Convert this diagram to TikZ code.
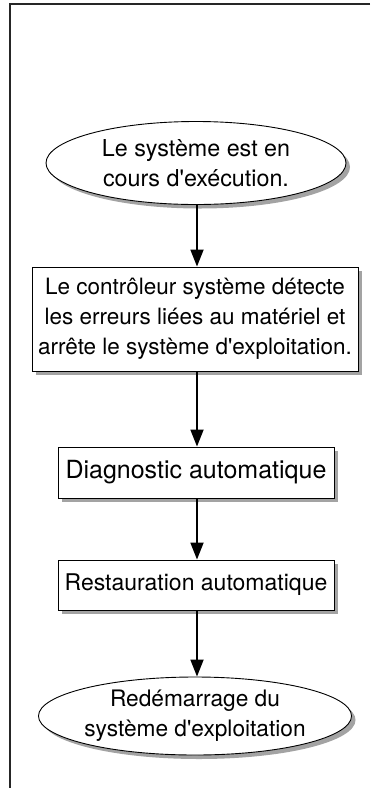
\documentclass[tikz,border=0pt]{standalone}
\usepackage{fontspec}
\setmainfont{TeX Gyre Heros}[Ligatures=TeXOff]
\usetikzlibrary{shapes.geometric,shadows,arrows.meta}
\begin{document}
\begin{tikzpicture}[x=1pt,y=1pt,
  every node/.style={font=\fontsize{22.5}{30}\selectfont, inner sep=0pt, align=center},
  shade/.style={drop shadow={shadow xshift=4pt,shadow yshift=-4pt,fill=black!45,opacity=0.8}},
  stepbox/.style={draw=black,line width=0.9pt,fill=white,rectangle,shade},
  ovalnode/.style={draw=black,line width=0.9pt,fill=white,ellipse,shade},
  flow/.style={line width=1.8pt,-{Triangle[length=17pt,width=13pt]}}]
\useasboundingbox (0,0) rectangle (370,-788);
\draw[line width=1.1pt,black!85] (370,-4) -- (10,-4) -- (10,-788);
\node[ovalnode,minimum width=300pt,minimum height=83pt,font=\fontsize{23.3}{30}\selectfont] (e1) at (196,-163) {Le système est en\\cours d'exécution.};
\node[stepbox,minimum width=326pt,minimum height=104pt] (b1) at (195,-319) {Le contrôleur système détecte\\les erreurs liées au matériel et\\arrête le système d'exploitation.};
\node[stepbox,minimum width=276pt,minimum height=51pt,font=\fontsize{25}{30}\selectfont] (b2) at (196,-472.5) {Diagnostic automatique};
\node[stepbox,minimum width=276pt,minimum height=50pt,font=\fontsize{23}{30}\selectfont] (b3) at (196,-585) {Restauration automatique};
\node[ovalnode,minimum width=300pt,minimum height=78pt,font=\fontsize{22.7}{30}\selectfont] (e2) at (195,-716) {Redémarrage du\\système d'exploitation};
\draw[flow] (e1.south -| 197,0) -- (b1.north -| 197,0);
\draw[flow] (b1.south -| 197,0) -- (b2.north -| 197,0);
\draw[flow] (b2.south -| 197,0) -- (b3.north -| 197,0);
\draw[flow] (b3.south -| 197,0) -- (e2.north -| 197,0);
\end{tikzpicture}
\end{document}
